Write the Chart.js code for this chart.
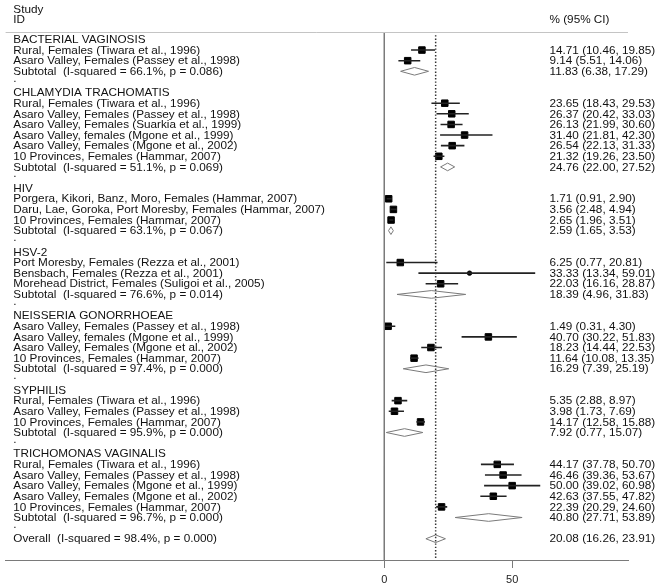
<!DOCTYPE html>
<html>
<head>
<meta charset="utf-8">
<script src="https://cdn.jsdelivr.net/npm/chart.js@4/dist/chart.umd.min.js"></script>
<style>
  html, body { margin: 0; padding: 0; background: #fff; }
  #wrap { width: 661px; height: 588px; }
</style>
</head>
<body>
<div id="wrap"><canvas id="c" width="661" height="588"></canvas></div>
<script>
// ---- data ----
const rowLabels = [
  "BACTERIAL VAGINOSIS",
  "Rural, Females (Tiwara et al., 1996)",
  "Asaro Valley, Females (Passey et al., 1998)",
  "Subtotal  (I-squared = 66.1%, p = 0.086)",
  ".",
  "CHLAMYDIA TRACHOMATIS",
  "Rural, Females (Tiwara et al., 1996)",
  "Asaro Valley, Females (Passey et al., 1998)",
  "Asaro Valley, Females (Suarkia et al., 1999)",
  "Asaro Valley, females (Mgone et al., 1999)",
  "Asaro Valley, Females (Mgone et al., 2002)",
  "10 Provinces, Females (Hammar, 2007)",
  "Subtotal  (I-squared = 51.1%, p = 0.069)",
  ".",
  "HIV",
  "Porgera, Kikori, Banz, Moro, Females (Hammar, 2007)",
  "Daru, Lae, Goroka, Port Moresby, Females (Hammar, 2007)",
  "10 Provinces, Females (Hammar, 2007)",
  "Subtotal  (I-squared = 63.1%, p = 0.067)",
  ".",
  "HSV-2",
  "Port Moresby, Females (Rezza et al., 2001)",
  "Bensbach, Females (Rezza et al., 2001)",
  "Morehead District, Females (Suligoi et al., 2005)",
  "Subtotal  (I-squared = 76.6%, p = 0.014)",
  ".",
  "NEISSERIA GONORRHOEAE",
  "Asaro Valley, Females (Passey et al., 1998)",
  "Asaro Valley, females (Mgone et al., 1999)",
  "Asaro Valley, Females (Mgone et al., 2002)",
  "10 Provinces, Females (Hammar, 2007)",
  "Subtotal  (I-squared = 97.4%, p = 0.000)",
  ".",
  "SYPHILIS",
  "Rural, Females (Tiwara et al., 1996)",
  "Asaro Valley, Females (Passey et al., 1998)",
  "10 Provinces, Females (Hammar, 2007)",
  "Subtotal  (I-squared = 95.9%, p = 0.000)",
  ".",
  "TRICHOMONAS VAGINALIS",
  "Rural, Females (Tiwara et al., 1996)",
  "Asaro Valley, Females (Passey et al., 1998)",
  "Asaro Valley, Females (Mgone et al., 1999)",
  "Asaro Valley, Females (Mgone et al., 2002)",
  "10 Provinces, Females (Hammar, 2007)",
  "Subtotal  (I-squared = 96.7%, p = 0.000)",
  ".",
  "Overall  (I-squared = 98.4%, p = 0.000)"
];
const rowTypes = [
  "group","study","study","subtotal","spacer",
  "group","study","study","study","study","study","study","subtotal","spacer",
  "group","study","study","study","subtotal","spacer",
  "group","study","study","study","subtotal","spacer",
  "group","study","study","study","study","subtotal","spacer",
  "group","study","study","study","subtotal","spacer",
  "group","study","study","study","study","study","subtotal","spacer",
  "overall"
];
const estimates = [
  null, 14.71, 9.14, 11.83, null,
  null, 23.65, 26.37, 26.13, 31.40, 26.54, 21.32, 24.76, null,
  null, 1.71, 3.56, 2.65, 2.59, null,
  null, 6.25, 33.33, 22.03, 18.39, null,
  null, 1.49, 40.70, 18.23, 11.64, 16.29, null,
  null, 5.35, 3.98, 14.17, 7.92, null,
  null, 44.17, 46.46, 50.00, 42.63, 22.39, 40.80, null,
  20.08
];
const lowerCI = [
  null, 10.46, 5.51, 6.38, null,
  null, 18.43, 20.42, 21.99, 21.81, 22.13, 19.26, 22.00, null,
  null, 0.91, 2.48, 1.96, 1.65, null,
  null, 0.77, 13.34, 16.16, 4.96, null,
  null, 0.31, 30.22, 14.44, 10.08, 7.39, null,
  null, 2.88, 1.73, 12.58, 0.77, null,
  null, 37.78, 39.36, 39.02, 37.55, 20.29, 27.71, null,
  16.26
];
const upperCI = [
  null, 19.85, 14.06, 17.29, null,
  null, 29.53, 33.03, 30.60, 42.30, 31.33, 23.50, 27.52, null,
  null, 2.90, 4.94, 3.51, 3.53, null,
  null, 20.81, 59.01, 28.87, 31.83, null,
  null, 4.30, 51.83, 22.53, 13.35, 25.19, null,
  null, 8.97, 7.69, 15.88, 15.07, null,
  null, 50.70, 53.67, 60.98, 47.82, 24.60, 53.89, null,
  23.91
];
const xTicks = [0, 50];
const headerLeft = ["Study", "ID"];
const headerRight = "% (95% CI)";

// ---- build datasets ----
const datasets = [];
const overallIdx = rowTypes.indexOf("overall");

// zero line
datasets.push({
  type: "line", data: [{x: 0, y: -0.7}, {x: 0, y: 49}],
  borderColor: "#7a7a7a", borderWidth: 1, pointRadius: 0, fill: false
});
// overall dotted line
datasets.push({
  type: "line", data: [{x: estimates[overallIdx], y: -0.4}, {x: estimates[overallIdx], y: 49}],
  borderColor: "#333", borderWidth: 1.5, borderDash: [1.4, 1.9], pointRadius: 0, fill: false
});

const studyPts = [];
rowTypes.forEach((t, i) => {
  if (t === "study") {
    datasets.push({
      type: "line", data: [{x: lowerCI[i], y: i}, {x: upperCI[i], y: i}],
      borderColor: "#222", borderWidth: 1.6, pointRadius: 0, fill: false
    });
    studyPts.push({x: estimates[i], y: i, w: upperCI[i] - lowerCI[i]});
  } else if (t === "subtotal" || t === "overall") {
    const h = 0.36;
    datasets.push({
      type: "line",
      data: [
        {x: lowerCI[i], y: i}, {x: estimates[i], y: i - h},
        {x: upperCI[i], y: i}, {x: estimates[i], y: i + h},
        {x: lowerCI[i], y: i}
      ],
      borderColor: "#7a7a7a", borderWidth: 1, pointRadius: 0, fill: false, tension: 0
    });
  }
});

datasets.push({
  type: "scatter", data: studyPts,
  backgroundColor: "#000", borderColor: "#000", borderWidth: 1,
  pointStyle: ctx => (ctx.raw && ctx.raw.w > 30) ? "circle" : "rect",
  pointRadius: ctx => (ctx.raw && ctx.raw.w > 30) ? 2.2 : 4.6
});

// ---- text plugin ----
const FONT = '10.4px "Liberation Sans", Arial, sans-serif';
const SX = 1.13;
function txt(ctx, s, x, cy) {
  ctx.save();
  ctx.translate(x, cy + 3.7);
  ctx.scale(SX, 1);
  ctx.fillText(s, 0, 0);
  ctx.restore();
}
const textPlugin = {
  id: "forestText",
  afterDraw(chart) {
    const ctx = chart.ctx, ys = chart.scales.y, a = chart.chartArea;
    ctx.save();
    ctx.font = FONT;
    ctx.fillStyle = "#111";
    ctx.textBaseline = "alphabetic";
    ctx.textAlign = "left";
    txt(ctx, headerLeft[0], 13.3, 9.6);
    txt(ctx, headerLeft[1], 13.3, 19.5);
    txt(ctx, headerRight, 549.5, 19.3);
    rowLabels.forEach((s, i) => {
      const cy = ys.getPixelForValue(i);
      txt(ctx, s, 13.3, s === "." ? cy - 4 : cy);
      if (estimates[i] != null) {
        const r = estimates[i].toFixed(2) + " (" + lowerCI[i].toFixed(2) + ", " + upperCI[i].toFixed(2) + ")";
        txt(ctx, r, 549.5, cy);
      }
    });
    // header rule
    ctx.strokeStyle = "#c4c4c4";
    ctx.lineWidth = 1;
    ctx.beginPath();
    ctx.moveTo(a.left, a.top + 0.5);
    ctx.lineTo(a.right, a.top + 0.5);
    ctx.stroke();
    ctx.restore();
  }
};

new Chart(document.getElementById("c"), {
  type: "scatter",
  data: { datasets },
  options: {
    responsive: false,
    animation: false,
    events: [],
    layout: { padding: { left: 3, right: 33, top: 32, bottom: 0 } },
    plugins: { legend: { display: false }, tooltip: { enabled: false } },
    scales: {
      x: {
        type: "linear", min: -148.1, max: 95.3,
        afterBuildTicks: s => { s.ticks = xTicks.map(v => ({value: v})); },
        afterFit: s => { s.height = 28; },
        grid: { display: true, drawOnChartArea: false, drawTicks: true, tickLength: 8, color: "#7a7a7a", lineWidth: 1 },
        border: { display: true, color: "#7a7a7a", width: 1 },
        ticks: { color: "#222", padding: 5, maxRotation: 0, autoSkip: false,
                 font: { family: '"Liberation Sans", Arial, sans-serif', size: 11 } }
      },
      y: {
        type: "linear", reverse: true, min: -0.7, max: 49, display: false
      }
    }
  },
  plugins: [textPlugin]
});
</script>
</body>
</html>
